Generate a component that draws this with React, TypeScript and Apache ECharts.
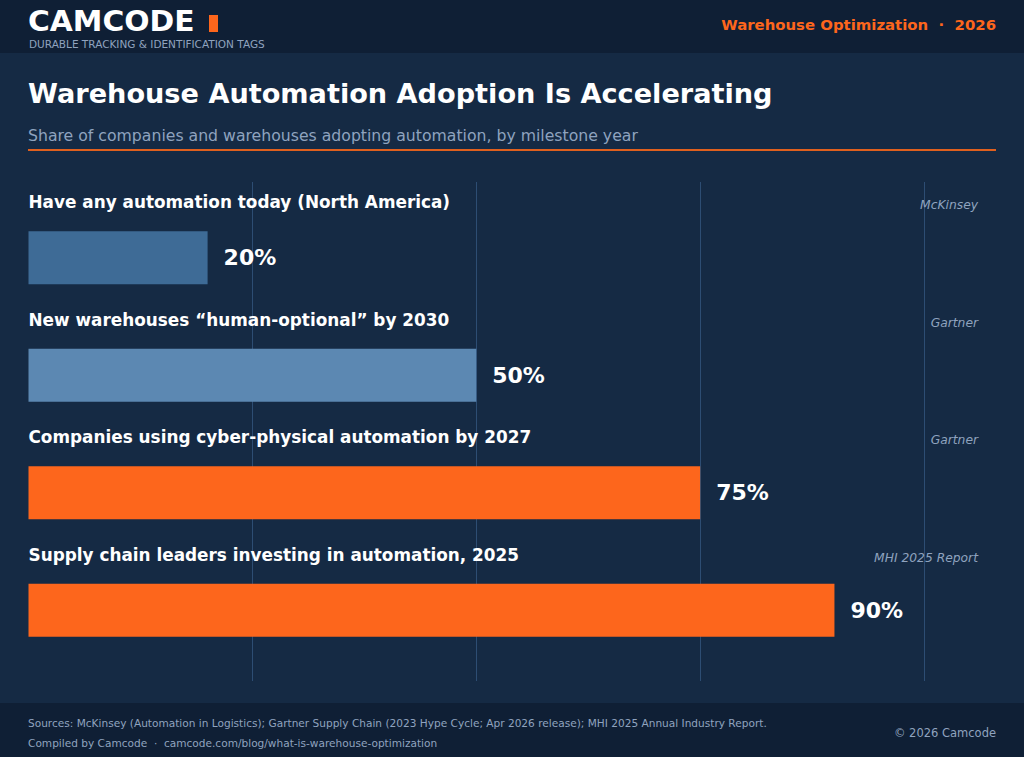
import React, { useEffect, useRef } from "react";
import * as echarts from "echarts";

const categories = [
  "Have any automation today (North America)",
  "New warehouses \u201chuman-optional\u201d by 2030",
  "Companies using cyber-physical automation by 2027",
  "Supply chain leaders investing in automation, 2025",
];
const values = [20, 50, 75, 90];
const sources = ["McKinsey", "Gartner", "Gartner", "MHI 2025 Report"];
const barColors = ["#3e6b96", "#5c88b2", "#fd661c", "#fd661c"];
const axisTicks = [0, 25, 50, 75, 100];

const BG = "#152a44";
const DARK = "#0f1f35";
const ORANGE = "#fd661c";
const GRAY = "#8fa3bf";
const FONT = "DejaVu Sans";

export default function App() {
  const ref = useRef<HTMLDivElement>(null);
  useEffect(() => {
    if (!ref.current) return;
    const chart = echarts.init(ref.current, undefined, { renderer: "svg" });
    const axisMin = axisTicks[0];
    const axisMax = axisTicks[axisTicks.length - 1];
    const interval = axisTicks[1] - axisTicks[0];
    chart.setOption({
      animation: false,
      backgroundColor: BG,
      textStyle: { fontFamily: FONT },
      graphic: [
        { type: "rect", left: 0, top: 0, shape: { width: 1024, height: 53 }, style: { fill: DARK }, z: -1 },
        { type: "rect", left: 0, top: 703, shape: { width: 1024, height: 54 }, style: { fill: DARK }, z: -1 },
        { type: "text", left: 28, top: 7, scaleX: 1.044, originX: 0, style: { text: "CAMCODE", fill: "#ffffff", font: `bold 28.5px ${FONT}` } },
        { type: "rect", left: 209, top: 15, shape: { width: 9, height: 17 }, style: { fill: ORANGE } },
        { type: "text", left: 29, top: 38.5, style: { text: "DURABLE TRACKING & IDENTIFICATION TAGS", fill: GRAY, font: `10.5px ${FONT}` } },
        { type: "text", right: 28, top: 17, style: { text: "Warehouse Optimization  \u00b7  2026", fill: ORANGE, font: `bold 14.9px ${FONT}` } },
        { type: "text", left: 28, top: 80, style: { text: "Warehouse Automation Adoption Is Accelerating", fill: "#ffffff", font: `bold 27.15px ${FONT}` } },
        { type: "text", left: 28, top: 127, style: { text: "Share of companies and warehouses adopting automation, by milestone year", fill: GRAY, font: `15.7px ${FONT}` } },
        { type: "rect", left: 28, top: 149, shape: { width: 968, height: 2 }, style: { fill: "#e0601e" } },
        { type: "text", left: 28, top: 717, style: { text: "Sources: McKinsey (Automation in Logistics); Gartner Supply Chain (2023 Hype Cycle; Apr 2026 release); MHI 2025 Annual Industry Report.", fill: GRAY, font: `10.57px ${FONT}` } },
        { type: "text", left: 28, top: 737, style: { text: "Compiled by Camcode  \u00b7  camcode.com/blog/what-is-warehouse-optimization", fill: GRAY, font: `10.57px ${FONT}` } },
        { type: "text", right: 28, top: 727, style: { text: "\u00a9 2026 Camcode", fill: GRAY, font: `11.5px ${FONT}` } },
      ],
      grid: [
        { left: 28.5, right: 100, top: 182, bottom: 76 },
        { left: 28.5, right: 100, top: 199, height: 470 },
      ],
      xAxis: [
        {
          gridIndex: 0, type: "value", min: axisMin, max: axisMax, interval,
          axisLine: { show: false }, axisTick: { show: false }, axisLabel: { show: false },
          splitLine: { show: true, showMinLine: false, lineStyle: { color: "#2d4d73", width: 1 } },
        },
        {
          gridIndex: 1, type: "value", min: axisMin, max: axisMax, interval,
          axisLine: { show: false }, axisTick: { show: false }, axisLabel: { show: false },
          splitLine: { show: false },
        },
      ],
      yAxis: [
        { gridIndex: 0, type: "category", data: categories, inverse: true, show: false },
        { gridIndex: 1, type: "category", data: categories, inverse: true, show: false },
      ],
      series: [
        {
          type: "bar",
          xAxisIndex: 1,
          yAxisIndex: 1,
          barWidth: 53,
          data: values.map((v, i) => ({ value: v, itemStyle: { color: barColors[i] } })),
          label: {
            show: true,
            position: "right",
            distance: 16,
            formatter: "{c}%",
            color: "#ffffff",
            fontSize: 22,
            fontWeight: "bold",
            fontFamily: FONT,
          },
          z: 3,
        },
        {
          type: "custom",
          xAxisIndex: 1,
          yAxisIndex: 1,
          data: categories.map((_, i) => [0, i]),
          renderItem: (params: any, api: any) => {
            const i = params.dataIndex;
            const p0 = api.coord([axisMin, i]);
            const p1 = api.coord([axisMax, i]);
            const band = api.size([0, 1])[1];
            const top = p0[1] - band / 2;
            return {
              type: "group",
              children: [
                {
                  type: "text",
                  x: p0[0],
                  y: top + 3,
                  style: { text: categories[i], fill: "#ffffff", font: `bold 16.88px ${FONT}`, verticalAlign: "middle", align: "left" },
                },
                {
                  type: "text",
                  x: p1[0] + 54,
                  y: top + 6,
                  style: { text: sources[i], fill: GRAY, font: `italic 12.3px ${FONT}`, verticalAlign: "middle", align: "right" },
                },
              ],
            };
          },
          z: 4,
        },
      ],
    });
    return () => chart.dispose();
  }, []);
  return <div ref={ref} style={{ position: "fixed", left: 0, top: 0, width: 1024, height: 757 }} />;
}
